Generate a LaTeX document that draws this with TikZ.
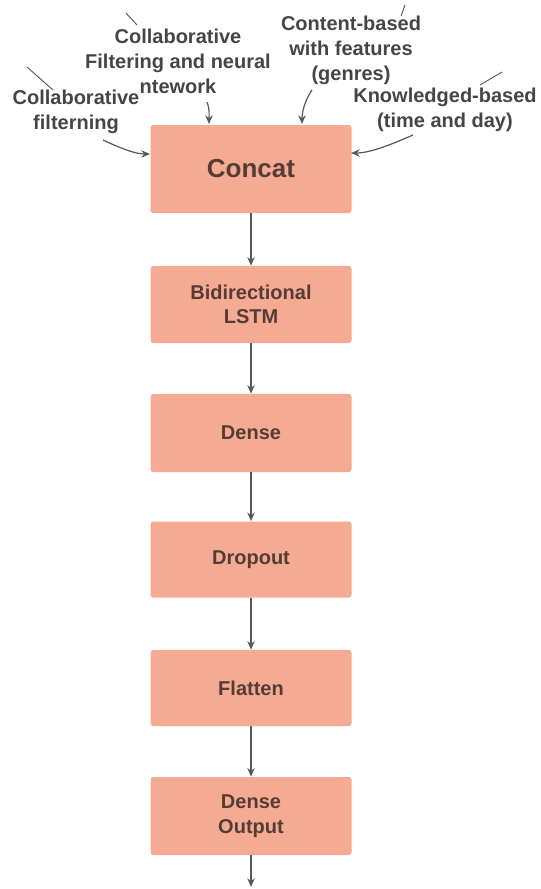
\documentclass[tikz,border=0pt]{standalone}
\usepackage{fontspec}
\setmainfont{Liberation Sans}
\usetikzlibrary{arrows.meta}
\definecolor{boxfill}{HTML}{F5AB93}
\definecolor{boxtext}{HTML}{553C35}
\definecolor{labeltext}{HTML}{454545}
\definecolor{wire}{HTML}{585858}
\tikzset{
  layer/.style={draw=none, fill=boxfill, rounded corners=2pt, minimum width=150.75pt,
    align=center, text=boxtext, font=\fontsize{15}{18.5}\selectfont\bfseries},
  source/.style={align=center, text=labeltext, font=\fontsize{15}{18.75}\selectfont\bfseries},
  link/.style={draw=wire, line width=0.9pt, -{Stealth[length=6.5pt,width=5.5pt]}},
  stub/.style={draw=wire, line width=0.7pt}
}
\begin{document}
\begin{tikzpicture}[x=0.75pt,y=-0.75pt]
\useasboundingbox (0,0) rectangle (540,889);

% network layers
\node[layer, minimum height=66pt, font=\fontsize{19.5}{22}\selectfont\bfseries] (concat) at (251,169) {Concat};
\node[layer, minimum height=57.75pt] (lstm) at (251,304.5) {Bidirectional\\LSTM};
\node[layer, minimum height=58.5pt] (dense) at (251,433) {Dense};
\node[layer, minimum height=57pt] (dropout) at (251,559.5) {Dropout};
\node[layer, minimum height=57pt] (flatten) at (251,688) {Flatten};
\node[layer, minimum height=58.5pt] (out) at (251,816) {Dense\\Output};
\coordinate (end) at (251,887);

\draw[link] (concat) -- (lstm);
\draw[link] (lstm) -- (dense);
\draw[link] (dense) -- (dropout);
\draw[link] (dropout) -- (flatten);
\draw[link] (flatten) -- (out);
\draw[link] (out) -- (end);

% input sources
\node[source] (cf) at (76,112) {Collaborative\\filterning};
\node[source] (cfnn) at (178,61) {Collaborative\\Filtering and neural\\ntework};
\node[source] (cb) at (351,50) {Content-based\\with features\\(genres)};
\node[source] (kb) at (445,110) {Knowledged-based\\(time and day)};

% stray connector stubs above the labels
\coordinate (s1a) at (27,67);  \coordinate (s1b) at (53,90);
\coordinate (s2a) at (126,13); \coordinate (s2b) at (137,25);
\coordinate (s3a) at (405,5);  \coordinate (s3b) at (401,16);
\coordinate (s4a) at (502,72); \coordinate (s4b) at (480,85);
\draw[stub] (s1a) -- (s1b);
\draw[stub] (s2a) -- (s2b);
\draw[stub] (s3a) -- (s3b);
\draw[stub] (s4a) -- (s4b);

% inputs into the concat layer
\coordinate (a1) at (103,140); \coordinate (b1) at (150,154);
\coordinate (a2) at (207,102); \coordinate (b2) at (209,124);
\coordinate (a3) at (312,90);  \coordinate (b3) at (302,124);
\coordinate (a4) at (413,135); \coordinate (b4) at (351,153);
\draw[link] (a1) .. controls (120,148) and (135,154) .. (b1);
\draw[link] (a2) .. controls (210,110) and (209,116) .. (b2);
\draw[link] (a3) .. controls (305,100) and (302,112) .. (b3);
\draw[link] (a4) .. controls (390,145) and (370,153) .. (b4);
\end{tikzpicture}
\end{document}
